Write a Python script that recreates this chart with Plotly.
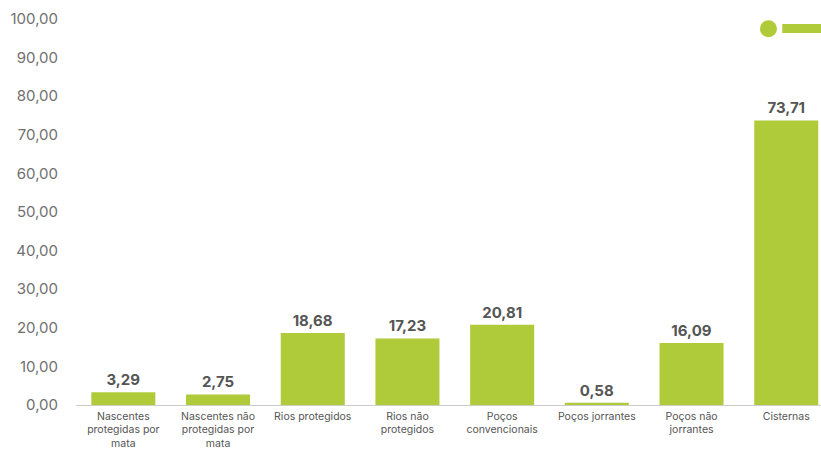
import plotly.graph_objects as go

categories = [
    "Nascentes<br>protegidas por<br>mata",
    "Nascentes não<br>protegidas por<br>mata",
    "Rios protegidos",
    "Rios não<br>protegidos",
    "Poços<br>convencionais",
    "Poços jorrantes",
    "Poços não<br>jorrantes",
    "Cisternas",
]
values = [3.29, 2.75, 18.68, 17.23, 20.81, 0.58, 16.09, 73.71]
tick_values = [0, 10, 20, 30, 40, 50, 60, 70, 80, 90, 100]
tick_labels = ["0,00", "10,00", "20,00", "30,00", "40,00", "50,00",
               "60,00", "70,00", "80,00", "90,00", "100,00"]

GREEN = "#B0CB3A"
FONT = "Inter, Open Sans, sans-serif"

fig = go.Figure(go.Bar(
    x=categories,
    y=values,
    marker=dict(color=GREEN, line=dict(width=0)),
    text=[f"{v:.2f}".replace(".", ",") for v in values],
    textposition="outside",
    textfont=dict(family=FONT, size=15, color="#555555", weight="bold"),
    cliponaxis=False,
    showlegend=False,
))

fig.update_layout(
    width=821, height=452,
    margin=dict(l=76, r=0, t=19, b=47),
    paper_bgcolor="white", plot_bgcolor="white",
    bargap=0.324,
    font=dict(family=FONT),
    xaxis=dict(
        range=[-0.5, 7.367], automargin=False,
        showgrid=False, showline=True, linecolor="#cccccc", linewidth=1,
        tickfont=dict(size=10.5, color="#555555"), ticks="",
        ticklabelstandoff=1,
    ),
    yaxis=dict(
        range=[0, 100], automargin=False,
        showgrid=False, zeroline=False, showline=False,
        tickvals=tick_values, ticktext=tick_labels,
        tickfont=dict(size=15, color="#707070"), ticklabelstandoff=17,
    ),
    shapes=[
        dict(type="circle", xref="paper", yref="paper",
             x0=0.918, x1=0.941, y0=0.953, y1=0.997,
             fillcolor=GREEN, line=dict(width=0)),
        dict(type="rect", xref="paper", yref="paper",
             x0=0.948, x1=1.0, y0=0.964, y1=0.987,
             fillcolor=GREEN, line=dict(width=0)),
    ],
)

fig.write_html("out.html")
